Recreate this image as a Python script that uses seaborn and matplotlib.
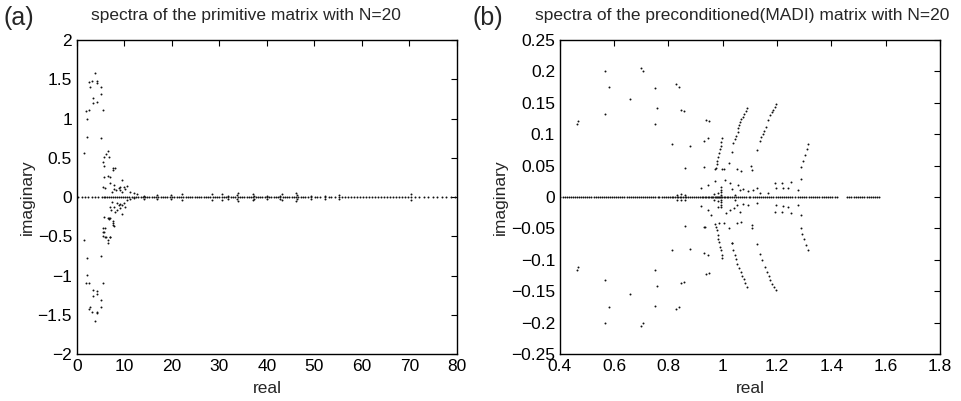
import matplotlib
matplotlib.use('Agg')
import matplotlib.pyplot as plt
import numpy as np
import pandas as pd
import seaborn as sns
from matplotlib.ticker import FuncFormatter

# ---- panel (a): primitive matrix, eigenvalues off the real axis ----
prim_re = [3.8, 3.2, 2.7, 2.6, 4.15, 4.3, 5.06, 5.0, 3.45, 3.3, 4.15, 1.83, 2.53, 2.04, 5.56, 2.04, 5.0, 1.48,
           1.48, 2.04, 5.0, 2.04, 1.9, 2.53, 5.56, 3.3, 4.15, 4.3, 3.45, 5.0, 5.06, 2.74, 2.6, 4.15, 4.3, 3.1, 3.8,
           6.47, 6.12, 6.81, 5.76, 5.42, 5.7, 7.66, 8.0, 7.53, 5.76, 6.6, 6.96, 9.5, 7.0, 7.7, 5.5, 6.0, 9.1,
           8.8, 9.8, 10.5, 7.9, 7.4, 8.3, 9.0, 10.2, 11.25, 12.0, 12.7, 9.5, 14.1, 16.9, 19.7, 22.2,
           7.4, 8.4, 9.1, 9.8, 10.5, 11.25, 12.0, 8.8, 9.5, 7.0, 7.7, 10.2, 8.4, 9.1, 7.2, 8.1, 9.5, 6.7,
           7.0, 7.6, 7.9, 5.8, 5.6, 5.5, 6.0, 6.5, 6.9, 5.76, 6.47, 6.81, 5.56, 5.42, 6.12, 6.96, 6.47, 7.66,
           7.53, 14.1, 16.9, 19.7, 22.2,
           28.4, 28.4, 30.5, 30.5, 31.9, 31.9, 33.7, 33.7, 33.9, 33.9, 37.2, 37.2, 37.0, 37.0, 40.0, 40.0,
           42.7, 42.7, 43.2, 43.2, 46.3, 46.3, 46.1, 46.1, 49.2, 49.2, 52.3, 52.3, 55.1, 55.1, 70.3, 70.3]
prim_im = [1.58, 1.48, 1.40, 1.46, 1.48, 1.45, 1.40, 1.31, 1.26, 1.20, 1.21, 1.10, 1.11, 0.99, 1.11, 0.77, 0.75, 0.56,
           -0.55, -0.77, -0.75, -0.99, -1.09, -1.10, -1.10, -1.18, -1.19, -1.23, -1.26, -1.31, -1.40, -1.40, -1.42,
           -1.46, -1.48, -1.47, -1.58,
           0.59, 0.55, 0.51, 0.51, 0.45, 0.40, 0.37, 0.37, 0.34, 0.26, 0.27, 0.26, 0.22, 0.175, 0.153, 0.124, 0.111,
           0.132, 0.111, 0.132, 0.14, 0.098, 0.068, 0.089, 0.089, 0.098, 0.068, 0.047, 0.039, 0.068, 0.02, 0.03,
           0.025, 0.035,
           -0.06, -0.08, -0.088, -0.072, -0.04, -0.03, -0.017, -0.10, -0.10, -0.122, -0.13, -0.122, -0.165, -0.143,
           -0.165, -0.187, -0.216, -0.27, -0.27, -0.335, -0.37, -0.40, -0.44, -0.497, -0.514, -0.548, -0.505,
           -0.25, -0.26, -0.28, -0.40, -0.45, -0.51, -0.51, -0.58, -0.36, -0.31, -0.02, -0.03, -0.02, -0.035,
           0.035, -0.035, 0.035, -0.035, 0.02, -0.02, 0.03, -0.03, 0.05, -0.05, 0.02, -0.02, 0.04, -0.04, 0.02,
           -0.02, 0.02, -0.02, 0.04, -0.04, 0.03, -0.03, 0.05, -0.05, 0.02, -0.02, 0.02, -0.02, 0.03, -0.03,
           0.035, -0.035]

# panel (a): real eigenvalues
prim_axis_re = [0.3, 1.0, 1.7, 2.4, 3.1, 3.8, 4.5, 5.2, 5.6, 6.0, 6.4, 6.8, 7.2, 7.6, 8.0, 8.4, 8.8, 9.2,
                9.7, 10.1, 10.6, 11.0, 11.5, 12.0, 12.4, 12.9, 13.4, 13.8, 14.3, 14.8, 15.2, 15.7, 16.2, 16.7,
                17.1, 17.6, 18.1, 18.6, 19.0, 19.5, 20.0, 20.5, 21.0, 21.4, 21.9, 22.4, 22.9, 23.3, 23.8, 24.3,
                24.8, 25.2, 25.7, 26.2, 26.7, 27.1, 27.6, 28.1, 28.6, 29.0, 29.5, 30.0, 30.5, 30.9, 31.4, 31.9,
                32.4, 32.8, 33.3, 33.8, 34.3, 34.7, 35.2, 35.7, 36.2, 36.6, 37.1, 37.6, 38.1, 38.5, 39.0, 39.5,
                40.0, 40.4, 40.9, 41.4, 41.9, 42.3, 42.8, 43.3, 43.8, 44.2, 44.7, 45.2, 45.7, 46.1, 46.6, 47.1,
                47.6, 48.1, 48.7, 49.3, 50.1, 50.6, 51.2, 52.3, 53.0, 53.5, 54.3, 55.1, 55.8, 56.4, 57.0, 57.6,
                58.3, 59.0, 59.6, 60.2, 60.8, 61.5, 62.1, 62.7, 63.3, 64.0, 64.6, 65.2, 65.9, 66.5, 67.1, 67.8,
                68.4, 69.0, 69.7, 70.3, 71.2, 72.0, 73.1, 73.9, 75.0, 75.8, 76.9, 77.7, 78.8, 79.6]

# ---- panel (b): preconditioned (MADI) matrix ----
madi_re = [0.463, 0.466, 0.566, 0.581, 0.566, 0.658, 0.698, 0.708, 0.750, 0.756, 0.750, 0.826, 0.838, 0.846,
           0.856, 0.814, 0.878, 0.861, 0.932, 0.932, 0.920,
           0.463, 0.466, 0.566, 0.581, 0.566, 0.658, 0.698, 0.708, 0.750, 0.756, 0.750, 0.826, 0.838, 0.846,
           0.856, 0.814, 0.878, 0.861, 0.932, 0.932, 0.920,
           0.998, 0.995, 0.992, 0.989, 0.986, 0.983, 0.980, 0.978, 0.976,
           0.976, 0.978, 0.981, 0.984, 0.987, 0.990, 0.993, 0.996, 0.998,
           1.088, 1.084, 1.079, 1.074, 1.069, 1.065, 1.061, 1.058, 1.055, 1.050, 1.045, 1.039, 1.035,
           1.035, 1.039, 1.044, 1.049, 1.054, 1.060, 1.066, 1.071, 1.077, 1.083, 1.088,
           1.196, 1.191, 1.186, 1.180, 1.174, 1.167, 1.159, 1.153, 1.147, 1.142, 1.137, 1.125,
           1.125, 1.137, 1.146, 1.155, 1.163, 1.169, 1.174, 1.181, 1.188, 1.196,
           1.315, 1.309, 1.303, 1.296, 1.287, 1.287,
           1.287, 1.287, 1.293, 1.299, 1.307, 1.315,
           0.937, 0.950, 0.944, 0.971, 0.996, 1.005, 1.023, 1.051, 1.069, 1.104, 1.106, 0.944, 0.971, 1.008,
           1.026, 1.033, 1.057, 1.063, 1.075, 1.094, 1.112, 1.125, 1.137, 1.192, 1.217, 1.251, 1.223, 1.241,
           1.278, 1.198, 1.167,
           0.937, 0.950, 0.944, 0.934, 0.971, 0.988, 1.005, 1.023, 1.051, 1.069, 1.106, 1.106, 1.033, 0.944,
           0.958, 0.981, 1.013, 1.026, 1.040, 1.052, 1.063, 1.075, 1.094, 1.125, 1.192, 1.217, 1.251, 1.223,
           1.241, 1.278, 1.198,
           0.832, 0.832, 0.846, 0.846, 0.862, 0.862, 0.995, 0.995, 0.995, 0.995, 0.995, 0.995, 0.995, 0.995,
           0.968, 0.968, 0.982, 0.982, 1.045, 1.045]
madi_im = [0.116, 0.121, 0.200, 0.175, 0.133, 0.156, 0.206, 0.200, 0.174, 0.142, 0.117, 0.180, 0.175, 0.138,
           0.137, 0.085, 0.081, 0.047, 0.089, 0.048, 0.015,
           -0.116, -0.112, -0.132, -0.175, -0.200, -0.154, -0.206, -0.200, -0.116, -0.142, -0.174, -0.179, -0.175,
           -0.137, -0.136, -0.085, -0.082, -0.046, -0.047, -0.089, -0.014,
           0.094, 0.088, 0.082, 0.076, 0.070, 0.064, 0.058, 0.052, 0.046,
           -0.047, -0.053, -0.060, -0.066, -0.072, -0.079, -0.085, -0.092, -0.097,
           0.142, 0.137, 0.133, 0.128, 0.124, 0.119, 0.115, 0.110, 0.104, 0.098, 0.093, 0.086, 0.072,
           -0.073, -0.085, -0.092, -0.099, -0.106, -0.113, -0.120, -0.126, -0.131, -0.137, -0.143,
           0.148, 0.143, 0.139, 0.135, 0.131, 0.122, 0.112, 0.106, 0.101, 0.095, 0.089, 0.075,
           -0.074, -0.090, -0.100, -0.111, -0.119, -0.126, -0.132, -0.138, -0.143, -0.148,
           0.085, 0.076, 0.067, 0.058, 0.048, 0.029,
           -0.029, -0.050, -0.058, -0.066, -0.076, -0.085,
           0.123, 0.121, 0.094, 0.044, 0.044, 0.044, 0.054, 0.044, 0.041, 0.049, 0.043, 0.020, 0.025, 0.027,
           0.023, 0.013, 0.020, 0.011, 0.013, 0.010, 0.012, 0.014, 0.007, 0.023, 0.023, 0.024, 0.014, 0.015,
           0.012, 0.014, 0.006,
           -0.122, -0.121, -0.092, -0.047, -0.043, -0.042, -0.042, -0.050, -0.042, -0.040, -0.044, -0.050,
           -0.073, -0.020, -0.028, -0.016, -0.026, -0.020, -0.018, -0.013, -0.024, -0.011, -0.012, -0.010,
           -0.024, -0.024, -0.025, -0.014, -0.015, -0.012, -0.013,
           0.004, -0.004, 0.005, -0.005, 0.004, -0.004, 0.004, -0.004, 0.008, -0.008, 0.012, -0.012, 0.016, -0.016,
           0.005, -0.005, 0.006, -0.006, 0.004, -0.004]

madi_axis_re = [0.402, 0.41, 0.418, 0.425, 0.433, 0.44, 0.448, 0.456, 0.463, 0.471, 0.478, 0.486, 0.494, 0.501,
                0.509, 0.516, 0.524, 0.532, 0.539, 0.547, 0.554, 0.562, 0.57, 0.577, 0.585, 0.592, 0.6, 0.608,
                0.615, 0.623, 0.63, 0.638, 0.646, 0.653, 0.661, 0.668, 0.676, 0.684, 0.691, 0.699, 0.706, 0.714,
                0.722, 0.729, 0.737, 0.744, 0.752, 0.76, 0.767, 0.775, 0.782, 0.79, 0.798, 0.805, 0.812, 0.818,
                0.824, 0.83, 0.836, 0.842, 0.848, 0.854, 0.86, 0.866, 0.872, 0.879, 0.887, 0.894, 0.902, 0.909,
                0.916, 0.922, 0.928, 0.934, 0.94, 0.945, 0.95, 0.955, 0.96, 0.965, 0.97, 0.975, 0.979, 0.983,
                0.987, 0.991, 0.995, 0.999, 1.004, 1.009, 1.015, 1.021, 1.028, 1.035, 1.042, 1.049, 1.057, 1.064,
                1.072, 1.079, 1.087, 1.095, 1.102, 1.11, 1.118, 1.125, 1.133, 1.141, 1.148, 1.156, 1.164, 1.171,
                1.179, 1.187, 1.195, 1.202, 1.21, 1.218, 1.226, 1.233, 1.241, 1.249, 1.257, 1.268, 1.276, 1.284,
                1.292, 1.3, 1.308, 1.316, 1.324, 1.332, 1.34, 1.348, 1.356, 1.364, 1.372, 1.38, 1.388, 1.396,
                1.404, 1.412, 1.42, 1.458, 1.466, 1.474, 1.482, 1.49, 1.498, 1.506, 1.514, 1.522, 1.53, 1.538,
                1.546, 1.554, 1.562, 1.57, 1.577]

prim_x_ticks = [0, 10, 20, 30, 40, 50, 60, 70, 80]
prim_y_ticks = [-2, -1.5, -1, -0.5, 0, 0.5, 1, 1.5, 2]
madi_x_ticks = [0.4, 0.6, 0.8, 1.0, 1.2, 1.4, 1.6, 1.8]
madi_y_ticks = [-0.25, -0.2, -0.15, -0.1, -0.05, 0, 0.05, 0.1, 0.15, 0.2, 0.25]


def spectrum_frame(re_off, im_off, re_axis):
    """Joins the complex eigenvalues and the real ones in one table."""
    return pd.DataFrame({'real': list(re_off) + list(re_axis),
                         'imaginary': list(im_off) + [0.0] * len(re_axis)})


def fmt(v, pos):
    return '{:g}'.format(round(v, 6)).replace('-', '\u2212')


sns.set_style('white')
plt.rcParams['font.family'] = ['Liberation Sans', 'DejaVu Sans']
plt.rcParams['axes.edgecolor'] = 'black'
plt.rcParams['axes.linewidth'] = 1.0

fig = plt.figure(figsize=(9.62, 4.01), dpi=100)
ax1 = fig.add_axes([0.080, 0.117, 0.395, 0.783])
ax2 = fig.add_axes([0.582, 0.117, 0.395, 0.783])

panels = [
    (ax1, spectrum_frame(prim_re, prim_im, prim_axis_re), (0, 80), (-2, 2), prim_x_ticks, prim_y_ticks),
    (ax2, spectrum_frame(madi_re, madi_im, madi_axis_re), (0.4, 1.8), (-0.25, 0.25), madi_x_ticks, madi_y_ticks),
]
for ax, df, xl, yl, xt, yt in panels:
    sns.scatterplot(data=df, x='real', y='imaginary', ax=ax, color='#111111', s=2,
                    linewidth=0, marker='o', legend=False)
    ax.set_xlim(*xl)
    ax.set_ylim(*yl)
    ax.set_xticks(xt)
    ax.set_yticks(yt)
    ax.xaxis.set_major_formatter(FuncFormatter(fmt))
    ax.yaxis.set_major_formatter(FuncFormatter(fmt))
    ax.tick_params(direction='in', top=True, right=True, length=4, width=0.8,
                   color='black', labelsize=12.5, labelcolor='black')
    ax.set_xlabel('real', fontsize=12.5, labelpad=5)
    ax.set_ylabel('imaginary', fontsize=12.5, labelpad=2)
    for sp in ax.spines.values():
        sp.set_visible(True)
        sp.set_color('black')

fig.text(0.256, 0.962, 'spectra of the primitive matrix with N=20', ha='center', va='center', fontsize=12.5)
fig.text(0.771, 0.962, 'spectra of the preconditioned(MADI) matrix with N=20', ha='center', va='center',
         fontsize=12.5)
fig.text(0.004, 0.955, '(a)', ha='left', va='center', fontsize=18)
fig.text(0.491, 0.955, '(b)', ha='left', va='center', fontsize=18)

plt.savefig('out.png', dpi=100)
